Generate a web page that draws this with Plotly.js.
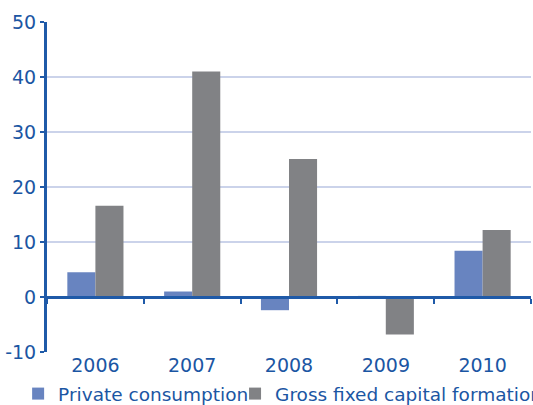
<!DOCTYPE html>
<html>
<head>
<meta charset="utf-8">
<script src="https://cdn.plot.ly/plotly-3.0.1.min.js"></script>
<style>
  html, body { margin: 0; padding: 0; background: #ffffff; }
  #chart { width: 533px; height: 405px; }
</style>
</head>
<body>
<div id="chart"></div>
<script>
// Annual growth, per cent
const years = ['2006', '2007', '2008', '2009', '2010'];
const privateConsumption = [4.5, 1.0, -2.4, 0.2, 8.4];
const grossFixedCapital = [16.6, 41.0, 25.1, -6.8, 12.2];
const seriesNames = ['Private consumption', 'Gross fixed capital formation'];
const yTickValues = [-10, 0, 10, 20, 30, 40, 50];

const inkBlue = '#1b56a3';
const axisBlue = '#1f5aa8';
const gridBlue = '#cbd3ea';
const barBlue = '#6884c0';
const barGrey = '#818285';

const traces = [
  {
    type: 'bar',
    name: seriesNames[0],
    x: years,
    y: privateConsumption,
    marker: { color: barBlue },
    legend: 'legend',
    hoverinfo: 'x+y'
  },
  {
    type: 'bar',
    name: seriesNames[1],
    x: years,
    y: grossFixedCapital,
    marker: { color: barGrey },
    legend: 'legend2',
    hoverinfo: 'x+y'
  },
  {
    // carries the categories for the axis drawn along zero
    type: 'scatter',
    mode: 'none',
    x: years,
    y: years.map(() => 0),
    xaxis: 'x2',
    showlegend: false,
    hoverinfo: 'skip'
  }
];

// one legend per series, laid out side by side under the axis
function legendAt(xFrac) {
  return {
    orientation: 'h',
    xref: 'container',
    yref: 'container',
    x: xFrac,
    xanchor: 'left',
    y: 0.027,
    yanchor: 'middle',
    font: { family: 'DejaVu Sans', size: 18.5, color: inkBlue },
    itemclick: false,
    itemdoubleclick: false,
    bgcolor: 'rgba(0,0,0,0)'
  };
}

const layout = {
  width: 533,
  height: 405,
  margin: { l: 47, r: 2, t: 22, b: 53, pad: 0, autoexpand: false },
  paper_bgcolor: '#ffffff',
  plot_bgcolor: '#ffffff',
  font: { family: 'DejaVu Sans', size: 19, color: inkBlue },
  barmode: 'group',
  bargap: 0.42,
  bargroupgap: 0,
  showlegend: true,
  legend: legendAt(0.034),
  legend2: legendAt(0.441),
  xaxis: {
    type: 'category',
    categoryorder: 'array',
    categoryarray: years,
    showgrid: false,
    showline: false,
    zeroline: false,
    ticks: '',
    tickfont: { family: 'DejaVu Sans', size: 19, color: inkBlue },
    fixedrange: true
  },
  xaxis2: {
    type: 'category',
    categoryorder: 'array',
    categoryarray: years,
    matches: 'x',
    overlaying: 'x',
    anchor: 'free',
    position: 1 / 6,
    side: 'bottom',
    showline: true,
    linecolor: axisBlue,
    linewidth: 3,
    showgrid: false,
    zeroline: false,
    ticks: 'outside',
    tickson: 'boundaries',
    ticklen: 5,
    tickwidth: 2,
    tickcolor: axisBlue,
    showticklabels: false,
    fixedrange: true
  },
  yaxis: {
    range: [-10, 50],
    tickvals: yTickValues,
    ticktext: yTickValues.map(String),
    showgrid: true,
    gridcolor: gridBlue,
    gridwidth: 1.5,
    zeroline: false,
    showline: true,
    linecolor: axisBlue,
    linewidth: 3,
    ticks: 'outside',
    ticklen: 4,
    tickwidth: 2,
    tickcolor: axisBlue,
    tickfont: { family: 'DejaVu Sans', size: 19, color: inkBlue },
    fixedrange: true
  }
};

Plotly.newPlot('chart', traces, layout, { staticPlot: true, displayModeBar: false });
</script>
</body>
</html>
